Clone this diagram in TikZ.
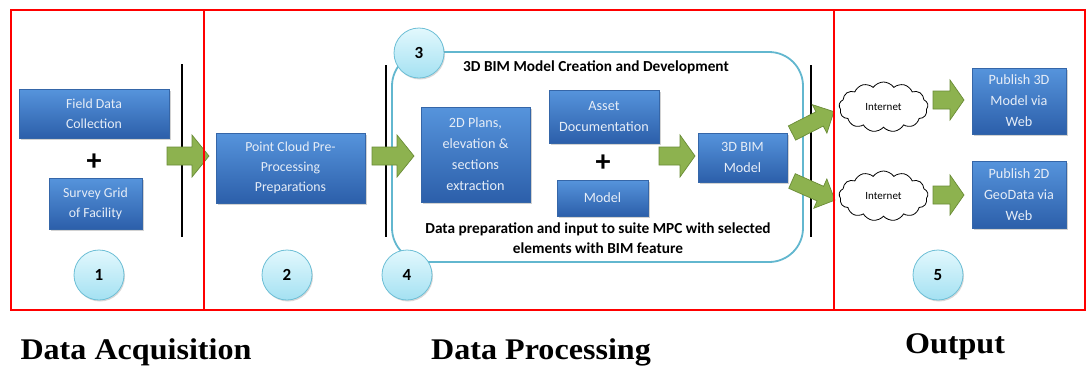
\documentclass[tikz,border=0pt]{standalone}
\usepackage{fontspec}
\newfontfamily\cb{Carlito}
\newfontfamily\tnr{Liberation Serif}
\usetikzlibrary{shadows,shapes.symbols}
\definecolor{bluetop}{HTML}{5694DC}
\definecolor{bluebot}{HTML}{2C5FAA}
\definecolor{blueedge}{HTML}{3566A8}
\definecolor{boxtext}{HTML}{E6EDF7}
\definecolor{circtop}{HTML}{E2F8FD}
\definecolor{circbot}{HTML}{A4E1F2}
\definecolor{circedge}{HTML}{6DBFD6}
\definecolor{frameblue}{HTML}{62B7CF}
\definecolor{gfill}{HTML}{8DB24F}
\definecolor{gedge}{HTML}{6A8C36}
\definecolor{framered}{HTML}{FF0000}
\tikzset{
  bbox/.style={rectangle, inner sep=0pt, top color=bluetop, bottom color=bluebot,
    draw=blueedge, line width=0.6pt, text=boxtext, align=center,
    font=\cb\fontsize{13.8}{20}\selectfont,
    drop shadow={opacity=0.35, shadow xshift=1.5pt, shadow yshift=-1.5pt}},
  numcirc/.style={circle, inner sep=0pt, minimum size=50pt, top color=circtop,
    bottom color=circbot, draw=circedge, line width=0.8pt,
    font=\cb\bfseries\fontsize{17}{17}\selectfont,
    drop shadow={opacity=0.3, shadow xshift=1pt, shadow yshift=-1.5pt}},
  garrow/.style={fill=gfill, draw=gedge, line width=0.7pt, line join=miter},
  sepline/.style={black, line width=2.4pt},
  redframe/.style={framered, line width=2.5pt},
  inet/.style={cloud, cloud puffs=13, cloud puff arc=110, aspect=1.8, draw=black,
    line width=0.8pt, fill=white, minimum width=89pt, minimum height=50pt,
    inner sep=0pt, font=\cb\fontsize{11}{12}\selectfont},
  btitle/.style={font=\cb\bfseries\fontsize{15.3}{20}\selectfont, align=center, inner sep=0pt},
  plus/.style={font=\cb\bfseries\fontsize{30}{30}\selectfont, inner sep=0pt},
  biglabel/.style={font=\tnr\bfseries\fontsize{30}{30}\selectfont, inner sep=0pt, xscale=1.07}
}
% block arrow: x, y, angle, length, head half-width, shaft half-width, head length
\newcommand\blockarr[7]{%
  \draw[garrow, shift={(#1,#2)}, rotate=#3]
    (0,-#6) -- ({#4-#7},-#6) -- ({#4-#7},-#5) -- (#4,0) -- ({#4-#7},#5)
    -- ({#4-#7},#6) -- (0,#6) -- cycle;}
\begin{document}
\begin{tikzpicture}[x=1pt,y=-1pt]
\useasboundingbox (0,0) rectangle (1087,365);
\fill[white] (0,0) rectangle (1087,365);

% separator lines
\draw[sepline] (182,64) -- (182,237);
\draw[sepline] (386,65) -- (386,237);
\draw[sepline] (811,65) -- (811,237);

% stage 3/4 frame
\draw[frameblue, line width=1.8pt, rounded corners=34pt] (392,52) rectangle (803,262);

% section 1
\node[bbox, minimum width=150pt, minimum height=49pt] (fdc) at (94,113.5) {Field Data\\Collection};
\node[plus] (p1) at (94,162) {+};
\node[bbox, minimum width=93pt, minimum height=51pt] (sgf) at (95.5,203.5) {Survey Grid\\of Facility};
\node[numcirc] (c1) at (99,275) {1};

% section 2
\node[bbox, minimum width=149pt, minimum height=70pt] (pcp) at (290.5,168) {Point Cloud Pre-\\Processing\\Preparations};
\node[numcirc] (c2) at (287,275) {2};

% stage 3
\node[btitle] (t3) at (596,67) {3D BIM Model Creation and Development};
\node[bbox, minimum width=109pt, minimum height=95pt, font=\cb\fontsize{14.2}{21}\selectfont] (plans) at (475.5,154.5) {2D Plans,\\elevation \&\\sections\\extraction};
\node[bbox, minimum width=110pt, minimum height=53pt, font=\cb\fontsize{14.2}{21}\selectfont] (asset) at (604,116.5) {Asset\\Documentation};
\node[plus] (p2) at (603,163) {+};
\node[bbox, minimum width=91pt, minimum height=36pt, font=\cb\fontsize{14.2}{21}\selectfont] (model) at (602.5,198) {Model};
\node[bbox, minimum width=89pt, minimum height=49pt, font=\cb\fontsize{14.2}{21}\selectfont] (bim) at (742.5,157.5) {3D BIM\\Model};
\node[btitle] (t4) at (598,238) {Data preparation and input to suite MPC with selected\\elements with BIM feature};
\node[numcirc] (c3) at (419,53) {3};
\node[numcirc] (c4) at (407,275) {4};

% output
\node[inet] (cl1) at (883.5,107) {Internet};
\node[inet] (cl2) at (883.5,196) {Internet};
\node[bbox, minimum width=94pt, minimum height=66pt, font=\cb\fontsize{14.2}{21}\selectfont] (pub3) at (1019,101) {Publish 3D\\Model via\\Web};
\node[bbox, minimum width=94pt, minimum height=67pt, font=\cb\fontsize{14.2}{21}\selectfont] (pub2) at (1019,194.5) {Publish 2D\\GeoData via\\Web};
\node[numcirc] (c5) at (938,275) {5};

% green block arrows
\blockarr{167}{156}{0}{42}{21}{9}{17}
\blockarr{372}{156}{0}{42}{21}{9}{17}
\blockarr{659}{156}{0}{36}{21}{9}{15}
\blockarr{792}{133}{27}{47}{16}{8}{16}
\blockarr{792}{181}{-24}{47}{16}{8}{16}
\blockarr{933}{100}{0}{31}{20}{9}{14}
\blockarr{933}{195}{0}{31}{20}{9}{14}

% red frames
\draw[redframe] (11,10) rectangle (204,310);
\draw[redframe] (204,10) rectangle (834,310);
\draw[redframe] (834,10) rectangle (1085,310);

% labels
\node[biglabel, anchor=base] (l1) at (136,359) {Data Acquisition};
\node[biglabel, anchor=base] (l2) at (541,359) {Data Processing};
\node[biglabel, anchor=base] (l3) at (955,353) {Output};
\end{tikzpicture}
\end{document}
